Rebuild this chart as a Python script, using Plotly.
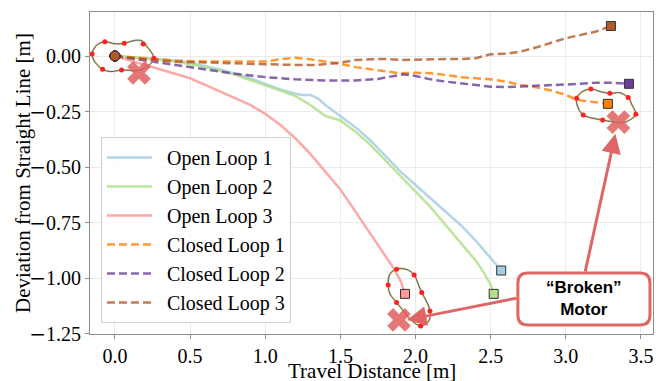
import plotly.graph_objects as go

# ---------------- data ----------------
series_names = ["Open Loop 1", "Open Loop 2", "Open Loop 3",
                "Closed Loop 1", "Closed Loop 2", "Closed Loop 3"]

ol1_x = [0, 0.1, 0.2, 0.3, 0.4, 0.5, 0.6, 0.7, 0.8, 0.9, 1.0, 1.1, 1.2, 1.25, 1.3, 1.35, 1.4, 1.5,
         1.6, 1.7, 1.8, 1.9, 2.0, 2.1, 2.2, 2.3, 2.4, 2.45, 2.5, 2.55, 2.57]
ol1_y = [0, -0.005, -0.01, -0.015, -0.02, -0.03, -0.045, -0.06, -0.08, -0.10, -0.125, -0.15, -0.17,
         -0.175, -0.175, -0.19, -0.22, -0.27, -0.32, -0.38, -0.45, -0.52, -0.58, -0.64, -0.70, -0.76,
         -0.83, -0.87, -0.91, -0.95, -0.965]

ol2_x = [0, 0.2, 0.4, 0.6, 0.8, 1.0, 1.1, 1.2, 1.3, 1.4, 1.5, 1.6, 1.7, 1.8, 1.9, 2.0, 2.1, 2.2,
         2.3, 2.4, 2.45, 2.5, 2.52]
ol2_y = [0, -0.01, -0.025, -0.05, -0.085, -0.13, -0.155, -0.18, -0.22, -0.27, -0.29, -0.34, -0.40,
         -0.47, -0.54, -0.61, -0.68, -0.76, -0.84, -0.92, -0.97, -1.03, -1.07]

ol3_x = [0, 0.1, 0.2, 0.3, 0.4, 0.5, 0.6, 0.7, 0.8, 0.9, 1.0, 1.1, 1.2, 1.3, 1.4, 1.5, 1.6, 1.7,
         1.8, 1.85, 1.9, 1.93]
ol3_y = [0, -0.02, -0.04, -0.06, -0.08, -0.10, -0.13, -0.16, -0.19, -0.22, -0.26, -0.31, -0.37,
         -0.44, -0.52, -0.60, -0.70, -0.80, -0.90, -0.95, -1.01, -1.07]

cl1_x = [0, 0.2, 0.4, 0.6, 0.8, 1.0, 1.1, 1.2, 1.3, 1.4, 1.5, 1.6, 1.7, 1.8, 1.9, 2.0, 2.1, 2.2,
         2.3, 2.4, 2.5, 2.6, 2.7, 2.8, 2.9, 3.0, 3.05, 3.1, 3.2, 3.28]
cl1_y = [0, -0.01, -0.02, -0.025, -0.025, -0.025, -0.015, -0.008, -0.015, -0.025, -0.035, -0.05,
         -0.06, -0.07, -0.078, -0.075, -0.078, -0.085, -0.095, -0.10, -0.105, -0.115, -0.13, -0.14,
         -0.155, -0.175, -0.19, -0.20, -0.21, -0.215]

cl2_x = [0, 0.1, 0.2, 0.3, 0.4, 0.5, 0.6, 0.8, 1.0, 1.2, 1.4, 1.6, 1.75, 1.85, 1.92, 2.0, 2.1, 2.2,
         2.4, 2.5, 2.6, 2.8, 3.0, 3.1, 3.2, 3.3, 3.42]
cl2_y = [0, -0.01, -0.02, -0.03, -0.04, -0.05, -0.06, -0.08, -0.095, -0.105, -0.11, -0.11, -0.103,
         -0.09, -0.082, -0.09, -0.105, -0.115, -0.13, -0.138, -0.14, -0.135, -0.13, -0.125, -0.12,
         -0.12, -0.125]

cl3_x = [0, 0.2, 0.4, 0.6, 0.8, 1.0, 1.2, 1.35, 1.5, 1.6, 1.7, 1.8, 1.9, 2.0, 2.1, 2.2, 2.3, 2.4,
         2.5, 2.6, 2.7, 2.8, 2.9, 3.0, 3.1, 3.2, 3.3]
cl3_y = [0, -0.015, -0.025, -0.03, -0.035, -0.037, -0.04, -0.04, -0.03, -0.018, -0.015, -0.013,
         -0.018, -0.018, -0.015, -0.013, -0.014, -0.01, 0.008, 0.01, 0.02, 0.038, 0.06, 0.08, 0.095,
         0.11, 0.135]

# robot outline loops (outline points and red marker dots)
loopA_x = [-0.152, -0.12, -0.067, 0.0, 0.062, 0.13, 0.18, 0.21, 0.259, 0.22, 0.15, 0.044, -0.03, -0.082, -0.13, -0.152]
loopA_y = [0.009, 0.05, 0.064, 0.055, 0.057, 0.07, 0.068, 0.045, -0.01, -0.045, -0.065, -0.063, -0.07, -0.06, -0.03, 0.009]
dotsA_x = [-0.152, -0.067, 0.062, 0.188, 0.259, 0.044, -0.082]
dotsA_y = [0.009, 0.064, 0.057, 0.054, -0.010, -0.063, -0.060]

loopB_x = [1.874, 1.94, 1.991, 2.02, 2.041, 2.07, 2.096, 2.09, 2.034, 1.96, 1.90, 1.874, 1.83, 1.818, 1.83, 1.874]
loopB_y = [-0.959, -0.96, -0.985, -1.03, -1.064, -1.10, -1.147, -1.19, -1.214, -1.18, -1.13, -1.109, -1.07, -1.030, -0.98, -0.959]
dotsB_x = [1.874, 1.991, 1.818, 2.041, 1.874, 2.096, 2.034]
dotsB_y = [-0.959, -0.985, -1.030, -1.064, -1.109, -1.147, -1.214]

loopC_x = [3.072, 3.11, 3.167, 3.23, 3.293, 3.36, 3.415, 3.44, 3.466, 3.42, 3.38, 3.245, 3.116, 3.08, 3.072]
loopC_y = [-0.190, -0.16, -0.148, -0.16, -0.168, -0.165, -0.187, -0.22, -0.262, -0.29, -0.30, -0.288, -0.265, -0.23, -0.190]
dotsC_x = [3.072, 3.167, 3.293, 3.415, 3.466, 3.245, 3.116]
dotsC_y = [-0.190, -0.148, -0.168, -0.187, -0.262, -0.288, -0.265]

# "broken motor" cross markers
cross_x = [0.16, 1.89, 3.35]
cross_y = [-0.076, -1.187, -0.297]

x_ticks = [0.0, 0.5, 1.0, 1.5, 2.0, 2.5, 3.0, 3.5]
x_ticklabels = ["0.0", "0.5", "1.0", "1.5", "2.0", "2.5", "3.0", "3.5"]
y_ticks = [0.0, -0.25, -0.5, -0.75, -1.0, -1.25]
y_ticklabels = ["0.00", "-0.25", "-0.50", "-0.75", "-1.00", "-1.25"]

x_title = "Travel Distance [m]"
y_title = "Deviation from Straight Line [m]"

# ---------------- style ----------------
line_colors = ["rgba(166,206,227,0.85)", "rgba(178,223,138,0.85)", "rgba(251,154,153,0.85)",
               "rgba(255,127,0,0.8)", "rgba(106,61,154,0.8)", "rgba(177,89,40,0.8)"]
marker_colors = ["#a6cee3", "#b2df8a", "#fb9a99", "#ff7f00", "#6a3d9a", "#b15928"]
SERIF = "Liberation Serif, Times New Roman, serif"
MINUS = '<span style="font-family:DejaVu Sans">\u2212</span>'


def fmt_tick(label):
    return MINUS + label[1:] if label.startswith("-") else label


fig = go.Figure()
xs = [ol1_x, ol2_x, ol3_x, cl1_x, cl2_x, cl3_x]
ys = [ol1_y, ol2_y, ol3_y, cl1_y, cl2_y, cl3_y]
for i, name in enumerate(series_names):
    fig.add_trace(go.Scatter(
        x=xs[i], y=ys[i], mode="lines", name="\u00a0\u00a0" + name,
        line=dict(color=line_colors[i], width=2.5,
                  dash="solid" if i < 3 else "8px,4px"),
    ))

# robot outlines
for lx, ly, dx, dy in [(loopA_x, loopA_y, dotsA_x, dotsA_y),
                       (loopB_x, loopB_y, dotsB_x, dotsB_y),
                       (loopC_x, loopC_y, dotsC_x, dotsC_y)]:
    fig.add_trace(go.Scatter(x=lx, y=ly, mode="lines", showlegend=False, hoverinfo="skip",
                             line=dict(color="#d6cf45", width=2.0, shape="spline")))
    fig.add_trace(go.Scatter(x=lx, y=ly, mode="lines", showlegend=False, hoverinfo="skip",
                             line=dict(color="#3a3ad0", width=0.8, shape="spline")))
    fig.add_trace(go.Scatter(x=dx, y=dy, mode="markers", showlegend=False, hoverinfo="skip",
                             marker=dict(color="#ff2020", size=5)))

# cross markers
fig.add_trace(go.Scatter(x=cross_x, y=cross_y, mode="markers", showlegend=False, hoverinfo="skip",
                         marker=dict(symbol="x", size=21, color="rgba(224,95,95,0.85)",
                                     line=dict(width=0))))

# start marker and end markers
for i in range(6):
    fig.add_trace(go.Scatter(x=[xs[i][0]], y=[ys[i][0]], mode="markers", showlegend=False,
                             hoverinfo="skip",
                             marker=dict(symbol="circle", size=10, color=marker_colors[i],
                                         line=dict(color="#333333", width=1))))
for i in range(6):
    fig.add_trace(go.Scatter(x=[xs[i][-1]], y=[ys[i][-1]], mode="markers", showlegend=False,
                             hoverinfo="skip",
                             marker=dict(symbol="square", size=9, color=marker_colors[i],
                                         line=dict(color="#333333", width=1))))

# annotation box (rounded rectangle)
bx0, bx1, by0, by1 = 2.681, 3.560, -0.976, -1.2095
rx, ry = 0.0665, 0.045
path = (f"M {bx0+rx},{by0} L {bx1-rx},{by0} Q {bx1},{by0} {bx1},{by0-ry} "
        f"L {bx1},{by1+ry} Q {bx1},{by1} {bx1-rx},{by1} "
        f"L {bx0+rx},{by1} Q {bx0},{by1} {bx0},{by1+ry} "
        f"L {bx0},{by0-ry} Q {bx0},{by0} {bx0+rx},{by0} Z")
ARROW = "#e06666"
fig.add_shape(type="path", path=path, xref="x", yref="y",
              line=dict(color=ARROW, width=3), fillcolor="white", layer="above")

annotations = [
    dict(x=1.943, y=-1.187, ax=2.681, ay=-1.088, xref="x", yref="y", axref="x", ayref="y",
         text="", showarrow=True, arrowhead=2, arrowsize=1.3, arrowwidth=3, arrowcolor=ARROW),
    dict(x=3.33, y=-0.35, ax=3.127, ay=-0.976, xref="x", yref="y", axref="x", ayref="y",
         text="", showarrow=True, arrowhead=2, arrowsize=1.3, arrowwidth=3, arrowcolor=ARROW),
    dict(x=(bx0 + bx1) / 2, y=(by0 + by1) / 2, xref="x", yref="y", showarrow=False,
         text="<b>\u201cBroken\u201d<br>Motor</b>",
         font=dict(family="Liberation Sans, Arial, sans-serif", size=17, color="black")),
    # axis titles
    dict(x=0.5, y=-0.114, xref="paper", yref="paper", xanchor="center", yanchor="middle",
         showarrow=False, text=x_title, borderpad=0,
         font=dict(family=SERIF, size=21, color="black")),
    dict(x=-0.119, y=0.5, xref="paper", yref="paper", xanchor="center", yanchor="middle",
         showarrow=False, text=y_title, textangle=-90, borderpad=0,
         font=dict(family=SERIF, size=21, color="black")),
]

axis_common = dict(showgrid=True, gridcolor="#ebebeb", gridwidth=1, zeroline=False,
                   showline=True, linecolor="#8c8c8c", linewidth=1, mirror=True,
                   ticks="outside", ticklen=4, tickcolor="#8c8c8c",
                   tickfont=dict(family=SERIF, size=20, color="black"))

fig.update_layout(
    width=656, height=381,
    margin=dict(l=90, r=3, t=12, b=47),
    paper_bgcolor="white", plot_bgcolor="white",
    font=dict(family=SERIF, size=20, color="black"),
    xaxis=dict(range=[-0.166, 3.58], tickvals=x_ticks, ticktext=x_ticklabels, **axis_common),
    yaxis=dict(range=[-1.2505, 0.198], tickvals=y_ticks,
               ticktext=[fmt_tick(t) for t in y_ticklabels], **axis_common),
    legend=dict(x=0.0195, y=0.612, xanchor="left", yanchor="top",
                bgcolor="rgba(255,255,255,0.8)", bordercolor="#d0d0d0", borderwidth=1,
                itemwidth=45,
                font=dict(family=SERIF, size=20, color="black"), tracegroupgap=0),
    annotations=annotations,
    showlegend=True,
)

fig.write_html("out.html", config={"displayModeBar": False},
               post_script="document.body.style.margin='0px';document.body.style.overflow='hidden';")
